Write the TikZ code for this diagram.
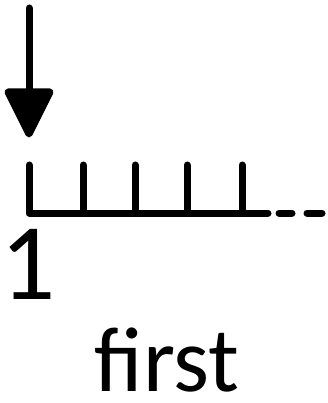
\documentclass[tikz,border=0pt]{standalone}
\usepackage{fontspec}
\setmainfont{Carlito}
\begin{document}
\begin{tikzpicture}[x=1pt,y=-1pt,
  stroke/.style={line width=7pt,line cap=round,line join=round},
  lbl/.style={inner sep=0pt,anchor=base}]
\useasboundingbox (0,0) rectangle (327,403);
% arrow
\coordinate (atop) at (29,8);
\coordinate (abase) at (29,92);
\coordinate (atip) at (29,134);
\draw[stroke] (atop) -- (abase);
\fill[stroke,draw] (8,92) -- (50,92) -- (atip) -- cycle;
% ruler
\coordinate (r0) at (29,213);
\coordinate (rend) at (268,213);
\draw[stroke] (29,165) -- (r0) -- (rend);
\foreach \x in {83,135,187,242} \draw[stroke] (\x,165) -- (\x,213);
\draw[stroke] (279,213) -- (292,213);
\draw[stroke] (307,213) -- (322,213);
% labels
\node[lbl,font=\fontsize{109}{110}\selectfont] (one) at (28,299) {1};
\node[lbl,font=\fontsize{92}{92}\selectfont] (first) at (167,391) {first};
\end{tikzpicture}
\end{document}
